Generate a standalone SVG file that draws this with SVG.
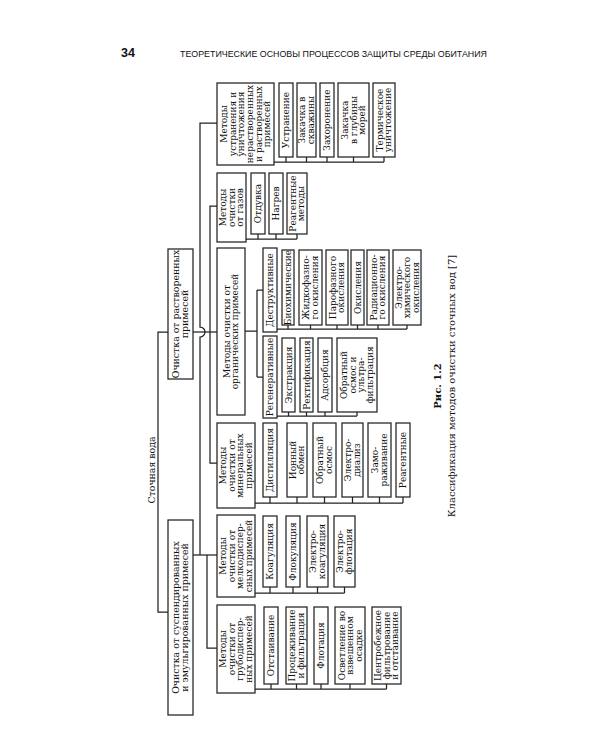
<svg xmlns="http://www.w3.org/2000/svg" width="600" height="750" viewBox="0 0 600 750">
<style>
.bg{fill:#fff}
.box{fill:#fff;stroke:#222;stroke-width:1.25}
.ln{fill:none;stroke:#222;stroke-width:1.25}
.t{font-family:"DejaVu Serif","Liberation Serif",serif;font-size:9px;fill:#111;text-anchor:middle}
.tt{font-family:"DejaVu Serif","Liberation Serif",serif;font-size:9.4px;fill:#111;text-anchor:middle}
.hd{font-family:"Liberation Sans","Noto Sans",sans-serif;fill:#111}
.cap{font-family:"DejaVu Serif","Liberation Serif",serif;font-size:10px;fill:#111;text-anchor:middle}
</style>
<rect class="bg" x="0" y="0" width="600" height="750"/>

<g id="header">
<text class="hd" x="121" y="57" font-size="12.5" font-weight="bold">34</text>
<text class="hd" x="180" y="57" font-size="9.5" textLength="307" lengthAdjust="spacingAndGlyphs">ТЕОРЕТИЧЕСКИЕ ОСНОВЫ ПРОЦЕССОВ ЗАЩИТЫ СРЕДЫ ОБИТАНИЯ</text>
</g>

<g id="connectors">
<path class="ln" d="M168,332 H158 V612 H168"/>
<path class="ln" d="M193,332 H217"/>
<path class="ln" d="M217,206 H210 V463 H217"/>
<path class="ln" d="M217,123 H200 V327 A5,5 0 0 1 200,337 V555"/>
<path class="ln" d="M193,555 H217"/>
<path class="ln" d="M207,555 V648 H217"/>
<path class="ln" d="M274,162 H384 M286,157 V162 M306.5,157 V162 M327,157 V162 M353.5,157 V162 M384,157 V162"/>
<path class="ln" d="M246,239 H297 M258,234 V239 M276,234 V239 M297,234 V239"/>
<path class="ln" d="M245,331 H257 M257,290 V377 M257,290 H263 M257,377 H263"/>
<path class="ln" d="M277,329 H407 M288,325 V329 M310.5,325 V329 M337,325 V329 M357.5,325 V329 M378,325 V329 M407,325 V329"/>
<path class="ln" d="M277,416 H357 M288.5,412 V416 M306.5,412 V416 M325,412 V416 M357,412 V416"/>
<path class="ln" d="M255,503 H403 M270,497 V503 M297,497 V503 M324.5,497 V503 M352.5,497 V503 M379.5,497 V503 M403,497 V503"/>
<path class="ln" d="M255,593 H344.5 M270,587 V593 M293,587 V593 M317.5,587 V593 M344.5,587 V593"/>
<path class="ln" d="M255,689 H386.5 M271,684 V689 M296.5,684 V689 M321,684 V689 M350,684 V689 M386.5,684 V689"/>
</g>

<g id="root">
<text class="tt" transform="translate(152,470) rotate(-90)" x="0" y="3.2">Сточная вода</text>
</g>

<g id="b-rast">
<rect class="box" x="168" y="249" width="25" height="130"/>
<text class="tt" transform="translate(180.5,314) rotate(-90)"><tspan x="0" y="-1.3">Очистка от растворенных</tspan><tspan x="0" y="7.8">примесей</tspan></text>
</g>
<g id="b-susp">
<rect class="box" x="168" y="520" width="25" height="195"/>
<text class="tt" transform="translate(180.5,617.5) rotate(-90)"><tspan x="0" y="-1.3">Очистка от суспендированных</tspan><tspan x="0" y="7.8">и эмульгированных примесей</tspan></text>
</g>

<g id="l-ustr">
<rect class="box" x="217" y="83" width="57" height="82"/>
<text class="t" transform="translate(245.5,124) rotate(-90)"><tspan x="0" y="-18.4">Методы</tspan><tspan x="0" y="-9.8">устранения и</tspan><tspan x="0" y="-1.2">уничтожения</tspan><tspan x="0" y="7.4">нерастворенных</tspan><tspan x="0" y="16">и растворенных</tspan><tspan x="0" y="24.6">примесей</tspan></text>
</g>
<g id="c-ustr1"><rect class="box" x="279" y="83" width="14" height="74"/><text class="t" transform="translate(286,120) rotate(-90)" x="0" y="3.1">Устранение</text></g>
<g id="c-ustr2"><rect class="box" x="297" y="83" width="19" height="74"/><text class="t" transform="translate(306.5,120) rotate(-90)"><tspan x="0" y="-1.2">Закачка в</tspan><tspan x="0" y="7.4">скважины</tspan></text></g>
<g id="c-ustr3"><rect class="box" x="320" y="83" width="14" height="74"/><text class="t" transform="translate(327,120) rotate(-90)" x="0" y="3.1">Захоронение</text></g>
<g id="c-ustr4"><rect class="box" x="338" y="83" width="31" height="74"/><text class="t" transform="translate(353.5,120) rotate(-90)"><tspan x="0" y="-5.5">Закачка</tspan><tspan x="0" y="3.1">в глубины</tspan><tspan x="0" y="11.7">морей</tspan></text></g>
<g id="c-ustr5"><rect class="box" x="373" y="83" width="22" height="74"/><text class="t" transform="translate(384,120) rotate(-90)"><tspan x="0" y="-1.2">Термическое</tspan><tspan x="0" y="7.4">уничтожение</tspan></text></g>

<g id="l-gaz">
<rect class="box" x="217" y="173" width="29" height="69"/>
<text class="t" transform="translate(231.5,207.5) rotate(-90)"><tspan x="0" y="-5.5">Методы</tspan><tspan x="0" y="3.1">очистки</tspan><tspan x="0" y="11.7">от газов</tspan></text>
</g>
<g id="c-gaz1"><rect class="box" x="251" y="173" width="14" height="61"/><text class="t" transform="translate(258,203.5) rotate(-90)" x="0" y="3.1">Отдувка</text></g>
<g id="c-gaz2"><rect class="box" x="269" y="173" width="14" height="61"/><text class="t" transform="translate(276,203.5) rotate(-90)" x="0" y="3.1">Нагрев</text></g>
<g id="c-gaz3"><rect class="box" x="287" y="173" width="20" height="61"/><text class="t" transform="translate(297,203.5) rotate(-90)"><tspan x="0" y="-1.2">Реагентные</tspan><tspan x="0" y="7.4">методы</tspan></text></g>

<g id="l-org">
<rect class="box" x="217" y="248" width="28" height="167"/>
<text class="t" transform="translate(231,331.5) rotate(-90)"><tspan x="0" y="-1.2">Методы очистки от</tspan><tspan x="0" y="7.4">органических примесей</tspan></text>
</g>
<g id="c-destr"><rect class="box" x="263" y="248" width="14" height="84"/><text class="t" transform="translate(270,290) rotate(-90)" x="0" y="3.1">Деструктивные</text></g>
<g id="c-regen"><rect class="box" x="263" y="336" width="14" height="82"/><text class="t" transform="translate(270,377) rotate(-90)" x="0" y="3.1">Регенеративные</text></g>

<g id="c-d1"><rect class="box" x="282" y="250" width="12" height="75"/><text class="t" transform="translate(288,287.5) rotate(-90)" x="0" y="3.1">Биохимические</text></g>
<g id="c-d2"><rect class="box" x="299" y="250" width="23" height="75"/><text class="t" transform="translate(310.5,287.5) rotate(-90)"><tspan x="0" y="-1.2">Жидкофазно-</tspan><tspan x="0" y="7.4">го окисления</tspan></text></g>
<g id="c-d3"><rect class="box" x="326" y="250" width="22" height="75"/><text class="t" transform="translate(337,287.5) rotate(-90)"><tspan x="0" y="-1.2">Парофазного</tspan><tspan x="0" y="7.4">окисления</tspan></text></g>
<g id="c-d4"><rect class="box" x="351" y="250" width="13" height="75"/><text class="t" transform="translate(357.5,287.5) rotate(-90)" x="0" y="3.1">Окисления</text></g>
<g id="c-d5"><rect class="box" x="367" y="250" width="22" height="75"/><text class="t" transform="translate(378,287.5) rotate(-90)"><tspan x="0" y="-1.2">Радиационно-</tspan><tspan x="0" y="7.4">го окисления</tspan></text></g>
<g id="c-d6"><rect class="box" x="393" y="250" width="28" height="75"/><text class="t" transform="translate(407,287.5) rotate(-90)"><tspan x="0" y="-5.5">Электро-</tspan><tspan x="0" y="3.1">химического</tspan><tspan x="0" y="11.7">окисления</tspan></text></g>

<g id="c-r1"><rect class="box" x="282" y="338" width="13" height="74"/><text class="t" transform="translate(288.5,375) rotate(-90)" x="0" y="3.1">Экстракция</text></g>
<g id="c-r2"><rect class="box" x="300" y="338" width="13" height="74"/><text class="t" transform="translate(306.5,375) rotate(-90)" x="0" y="3.1">Ректификация</text></g>
<g id="c-r3"><rect class="box" x="318" y="338" width="14" height="74"/><text class="t" transform="translate(325,375) rotate(-90)" x="0" y="3.1">Адсорбция</text></g>
<g id="c-r4"><rect class="box" x="337" y="338" width="40" height="74"/><text class="t" transform="translate(357,375) rotate(-90)"><tspan x="0" y="-9.8">Обратный</tspan><tspan x="0" y="-1.2">осмос и</tspan><tspan x="0" y="7.4">ультра-</tspan><tspan x="0" y="16">фильтрация</tspan></text></g>

<g id="l-min">
<rect class="box" x="217" y="423" width="38" height="85"/>
<text class="t" transform="translate(236,465.5) rotate(-90)"><tspan x="0" y="-9.8">Методы</tspan><tspan x="0" y="-1.2">очистки от</tspan><tspan x="0" y="7.4">минеральных</tspan><tspan x="0" y="16">примесей</tspan></text>
</g>
<g id="c-m1"><rect class="box" x="263" y="423" width="14" height="74"/><text class="t" transform="translate(270,460) rotate(-90)" x="0" y="3.1">Дистилляция</text></g>
<g id="c-m2"><rect class="box" x="287" y="423" width="20" height="74"/><text class="t" transform="translate(297,460) rotate(-90)"><tspan x="0" y="-1.2">Ионный</tspan><tspan x="0" y="7.4">обмен</tspan></text></g>
<g id="c-m3"><rect class="box" x="313" y="423" width="23" height="74"/><text class="t" transform="translate(324.5,460) rotate(-90)"><tspan x="0" y="-1.2">Обратный</tspan><tspan x="0" y="7.4">осмос</tspan></text></g>
<g id="c-m4"><rect class="box" x="342" y="423" width="21" height="74"/><text class="t" transform="translate(352.5,460) rotate(-90)"><tspan x="0" y="-1.2">Электро-</tspan><tspan x="0" y="7.4">диализ</tspan></text></g>
<g id="c-m5"><rect class="box" x="368" y="423" width="23" height="74"/><text class="t" transform="translate(379.5,460) rotate(-90)"><tspan x="0" y="-1.2">Замо-</tspan><tspan x="0" y="7.4">раживание</tspan></text></g>
<g id="c-m6"><rect class="box" x="396" y="423" width="14" height="74"/><text class="t" transform="translate(403,460) rotate(-90)" x="0" y="3.1">Реагентные</text></g>

<g id="l-melk">
<rect class="box" x="217" y="515" width="38" height="82"/>
<text class="t" transform="translate(236,556) rotate(-90)"><tspan x="0" y="-9.8">Методы</tspan><tspan x="0" y="-1.2">очистки от</tspan><tspan x="0" y="7.4">мелкодиспер-</tspan><tspan x="0" y="16">сных примесей</tspan></text>
</g>
<g id="c-k1"><rect class="box" x="263" y="516" width="14" height="71"/><text class="t" transform="translate(270,551.5) rotate(-90)" x="0" y="3.1">Коагуляция</text></g>
<g id="c-k2"><rect class="box" x="286" y="516" width="14" height="71"/><text class="t" transform="translate(293,551.5) rotate(-90)" x="0" y="3.1">Флокуляция</text></g>
<g id="c-k3"><rect class="box" x="307" y="516" width="21" height="71"/><text class="t" transform="translate(317.5,551.5) rotate(-90)"><tspan x="0" y="-1.2">Электро-</tspan><tspan x="0" y="7.4">коагуляция</tspan></text></g>
<g id="c-k4"><rect class="box" x="334" y="516" width="21" height="71"/><text class="t" transform="translate(344.5,551.5) rotate(-90)"><tspan x="0" y="-1.2">Электро-</tspan><tspan x="0" y="7.4">флотация</tspan></text></g>

<g id="l-grub">
<rect class="box" x="217" y="605" width="38" height="88"/>
<text class="t" transform="translate(236,649) rotate(-90)"><tspan x="0" y="-9.8">Методы</tspan><tspan x="0" y="-1.2">очистки от</tspan><tspan x="0" y="7.4">грубодиспер-</tspan><tspan x="0" y="16">ных примесей</tspan></text>
</g>
<g id="c-g1"><rect class="box" x="264" y="607" width="14" height="77"/><text class="t" transform="translate(271,645.5) rotate(-90)" x="0" y="3.1">Отстаивание</text></g>
<g id="c-g2"><rect class="box" x="286" y="607" width="21" height="77"/><text class="t" transform="translate(296.5,645.5) rotate(-90)"><tspan x="0" y="-1.2">Процеживание</tspan><tspan x="0" y="7.4">и фильтрация</tspan></text></g>
<g id="c-g3"><rect class="box" x="314" y="607" width="14" height="77"/><text class="t" transform="translate(321,645.5) rotate(-90)" x="0" y="3.1">Флотация</text></g>
<g id="c-g4"><rect class="box" x="335" y="607" width="30" height="77"/><text class="t" transform="translate(350,645.5) rotate(-90)"><tspan x="0" y="-5.5">Осветление во</tspan><tspan x="0" y="3.1">взвешенном</tspan><tspan x="0" y="11.7">осадке</tspan></text></g>
<g id="c-g5"><rect class="box" x="372" y="607" width="29" height="77"/><text class="t" transform="translate(386.5,645.5) rotate(-90)"><tspan x="0" y="-5.5">Центробежное</tspan><tspan x="0" y="3.1">фильтрование</tspan><tspan x="0" y="11.7">и отстаивание</tspan></text></g>

<g id="caption">
<text class="cap" transform="translate(437,386) rotate(-90)" x="0" y="4" font-weight="bold">Рис. 1.2</text>
<text class="cap" transform="translate(451,386) rotate(-90)" x="0" y="4">Классификация методов очистки сточных вод [7]</text>
</g>
</svg>
